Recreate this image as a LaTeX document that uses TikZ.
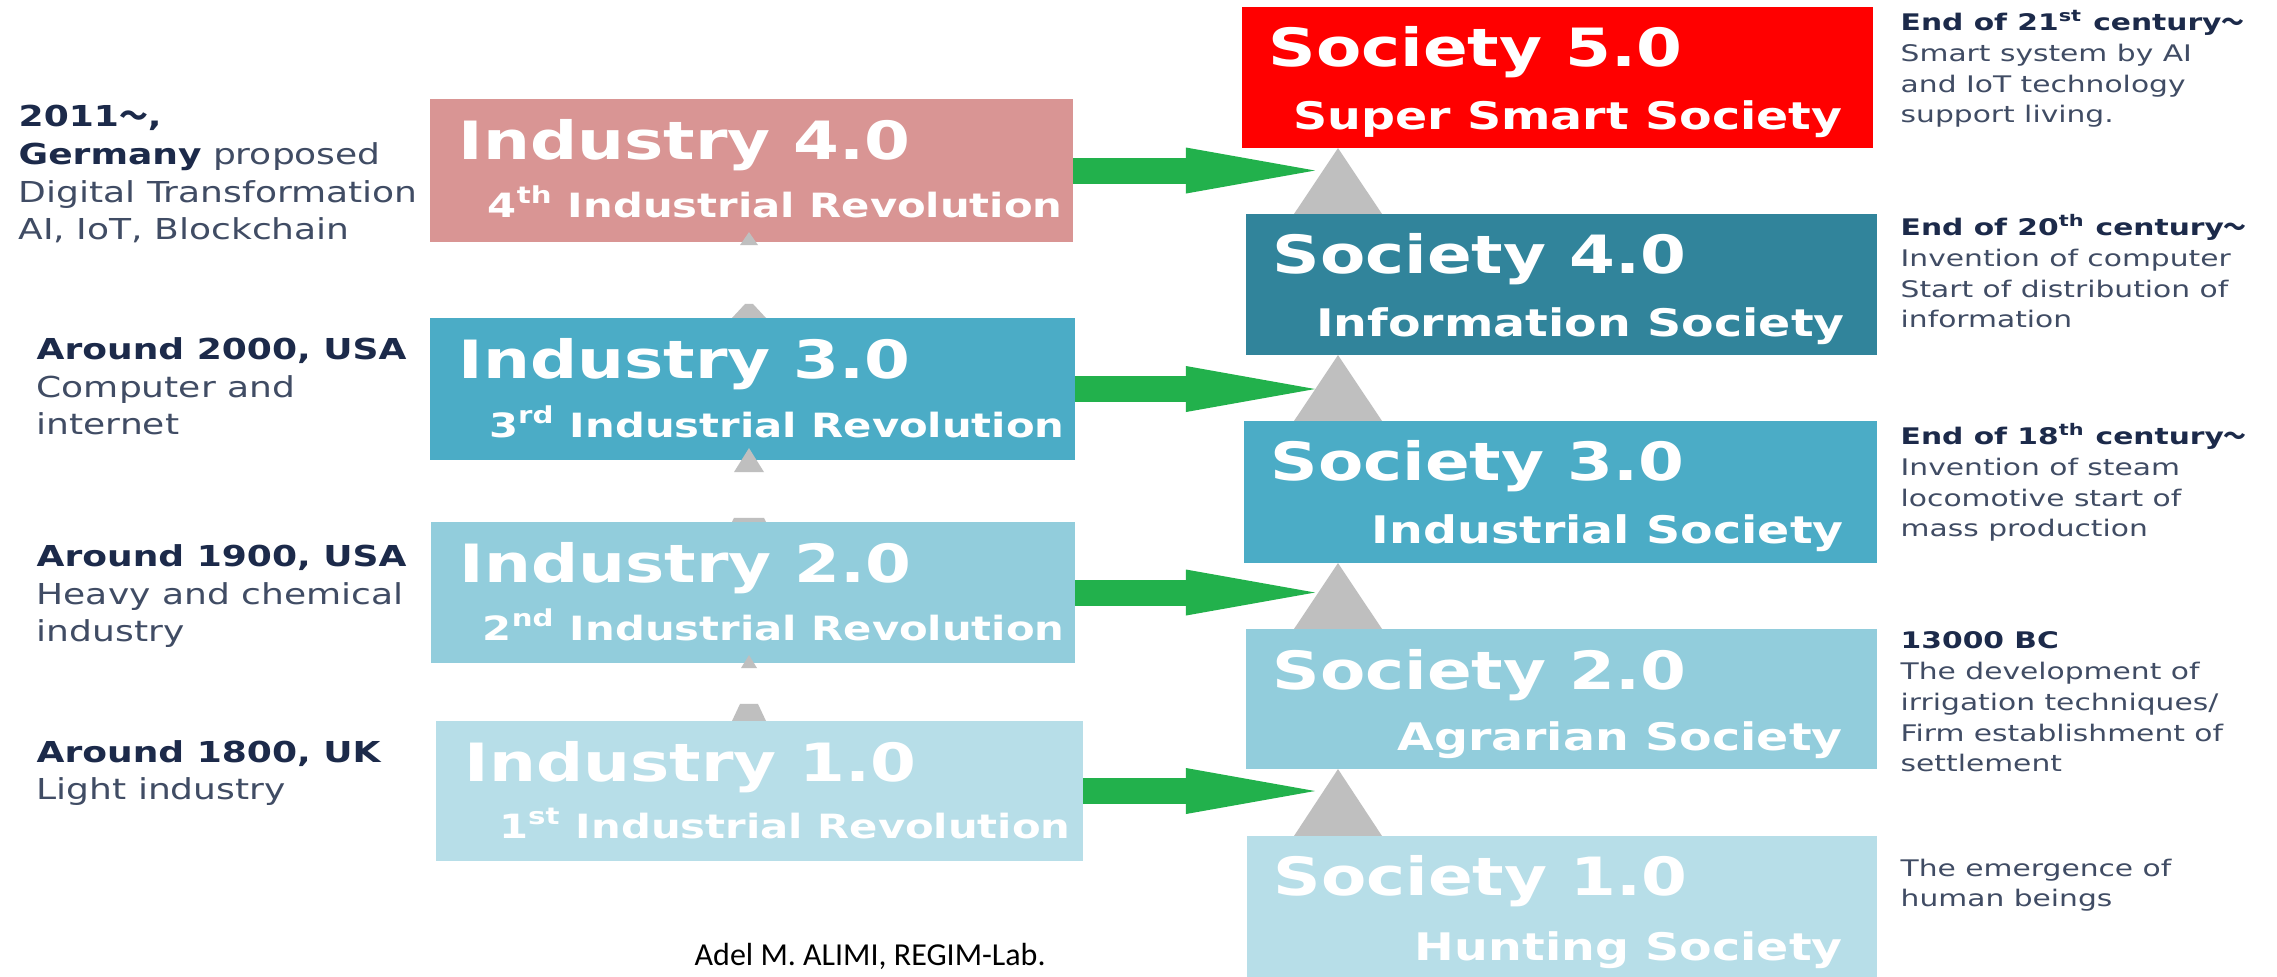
\documentclass[tikz,border=0pt]{standalone}
\usepackage{fontspec}
\usepackage{tikz}
\usetikzlibrary{arrows.meta}
\newfontfamily\boxfont{DejaVu Sans}[FakeStretch=1.25]
\newfontfamily\notefont{DejaVu Sans}[FakeStretch=1.3]
\newfontfamily\labfont{Carlito}
\newfontfamily\jpfont{Noto Sans CJK JP}
\newcommand{\wave}{{\jpfont ～}}
\newcommand{\hd}[1]{{\bfseries\color{navy}#1}}
\definecolor{ind4}{RGB}{217,149,148}
\definecolor{ind3}{RGB}{75,172,198}
\definecolor{ind2}{RGB}{146,205,220}
\definecolor{ind1}{RGB}{183,222,232}
\definecolor{soc5}{RGB}{255,0,0}
\definecolor{soc4}{RGB}{49,132,155}
\definecolor{arrowgreen}{RGB}{34,177,76}
\definecolor{markgray}{RGB}{191,191,191}
\definecolor{navy}{RGB}{28,42,74}
\definecolor{slate}{RGB}{64,76,100}

\begin{document}
\begin{tikzpicture}[x=0.01cm,y=-0.01cm,
  box node/.style={rectangle,inner sep=0pt,outer sep=0pt,anchor=north west},
  title node/.style={anchor=base west,inner sep=0pt,text=white,
    font=\boxfont\bfseries\fontsize{15}{18}\selectfont},
  ind sub/.style={anchor=base east,inner sep=0pt,text=white,
    font=\boxfont\bfseries\fontsize{9.5}{11}\selectfont},
  soc sub/.style={anchor=base east,inner sep=0pt,text=white,
    font=\boxfont\bfseries\fontsize{10.8}{13}\selectfont},
  left note/.style={anchor=base west,inner sep=0pt,align=left,text=slate,
    font=\boxfont\fontsize{8.2}{10.8}\selectfont},
  right note/.style={anchor=base west,inner sep=0pt,align=left,text=slate,
    font=\notefont\fontsize{6.5}{8.8}\selectfont},
  green arrow/.style={draw=arrowgreen,line width=0.26cm,
    -{Triangle[length=1.29cm,width=0.46cm,line width=0pt]}},
  up mark/.style={fill=markgray}]

\fill[white] (0,0) rectangle (2277,977);
\useasboundingbox (0,0) rectangle (2277,977);

\coordinate (tip) at (1315,0);
\coordinate (stem) at (1338,0);
\coordinate (col) at (749,0);

% industry boxes
\node[box node,fill=ind4,minimum width=6.43cm,minimum height=1.43cm] (I4) at (430,99) {};
\node[box node,fill=ind3,minimum width=6.45cm,minimum height=1.42cm] (I3) at (430,318) {};
\node[box node,fill=ind2,minimum width=6.44cm,minimum height=1.41cm] (I2) at (431,522) {};
\node[box node,fill=ind1,minimum width=6.47cm,minimum height=1.40cm] (I1) at (436,721) {};

\node[title node,xshift=0.28cm,yshift=-0.60cm] (I4t) at (I4.north west) {Industry 4.0};
\node[title node,xshift=0.28cm,yshift=-0.60cm] (I3t) at (I3.north west) {Industry 3.0};
\node[title node,xshift=0.28cm,yshift=-0.60cm] (I2t) at (I2.north west) {Industry 2.0};
\node[title node,xshift=0.28cm,yshift=-0.60cm] (I1t) at (I1.north west) {Industry 1.0};
\node[ind sub,xshift=-0.10cm,yshift=0.25cm] (I4s) at (I4.south east) {4\textsuperscript{th} Industrial Revolution};
\node[ind sub,xshift=-0.10cm,yshift=0.23cm] (I3s) at (I3.south east) {3\textsuperscript{rd} Industrial Revolution};
\node[ind sub,xshift=-0.10cm,yshift=0.23cm] (I2s) at (I2.south east) {2\textsuperscript{nd} Industrial Revolution};
\node[ind sub,xshift=-0.12cm,yshift=0.23cm] (I1s) at (I1.south east) {1\textsuperscript{st} Industrial Revolution};

% society boxes
\node[box node,fill=soc5,minimum width=6.31cm,minimum height=1.41cm] (S5) at (1242,7) {};
\node[box node,fill=soc4,minimum width=6.31cm,minimum height=1.41cm] (S4) at (1246,214) {};
\node[box node,fill=ind3,minimum width=6.33cm,minimum height=1.42cm] (S3) at (1244,421) {};
\node[box node,fill=ind2,minimum width=6.31cm,minimum height=1.40cm] (S2) at (1246,629) {};
\node[box node,fill=ind1,minimum width=6.30cm,minimum height=1.41cm] (S1) at (1247,836) {};

\node[title node,xshift=0.26cm,yshift=-0.59cm] (S5t) at (S5.north west) {Society 5.0};
\node[title node,xshift=0.26cm,yshift=-0.59cm] (S4t) at (S4.north west) {Society 4.0};
\node[title node,xshift=0.26cm,yshift=-0.59cm] (S3t) at (S3.north west) {Society 3.0};
\node[title node,xshift=0.26cm,yshift=-0.60cm] (S2t) at (S2.north west) {Society 2.0};
\node[title node,xshift=0.26cm,yshift=-0.59cm] (S1t) at (S1.north west) {Society 1.0};
\node[soc sub,xshift=-0.30cm,yshift=0.19cm] (S5s) at (S5.south east) {Super Smart Society};
\node[soc sub,xshift=-0.32cm,yshift=0.19cm] (S4s) at (S4.south east) {Information Society};
\node[soc sub,xshift=-0.33cm,yshift=0.20cm] (S3s) at (S3.south east) {Industrial Society};
\node[soc sub,xshift=-0.34cm,yshift=0.19cm] (S2s) at (S2.south east) {Agrarian Society};
\node[soc sub,xshift=-0.34cm,yshift=0.17cm] (S1s) at (S1.south east) {Hunting Society};

% what is left of the small up arrows
\fill[up mark] (I4.south -| col) ++(-9,3) -- ++(18,0) -- ++(-9,-13) -- cycle;
\fill[up mark] (I3.north -| col) ++(-17,0) -- ++(34,0) -- ++(-13,-14) -- ++(-8,0) -- cycle;
\fill[up mark] (I3.south -| col) ++(-15,12) -- ++(30,0) -- ++(-15,-24) -- cycle;
\fill[up mark] (I2.north -| col) ++(-17,0) -- ++(34,0) -- ++(-2,-4) -- ++(-30,0) -- cycle;
\fill[up mark] (I2.south -| col) ++(-8,5) -- ++(16,0) -- ++(-8,-13) -- cycle;
\fill[up mark] (I1.north -| col) ++(-17,0) -- ++(34,0) -- ++(-8,-17) -- ++(-18,0) -- cycle;

% society steps
\fill[up mark] (S4.north -| stem) ++(-44,0) -- ++(88,0) -- (S5.south -| stem) -- cycle;
\fill[up mark] (S3.north -| stem) ++(-44,0) -- ++(88,0) -- (S4.south -| stem) -- cycle;
\fill[up mark] (S2.north -| stem) ++(-44,0) -- ++(88,0) -- (S3.south -| stem) -- cycle;
\fill[up mark] (S1.north -| stem) ++(-44,0) -- ++(88,0) -- (S2.south -| stem) -- cycle;

\draw[green arrow] (I4.east) -- (I4.east -| tip);
\draw[green arrow] (I3.east) -- (I3.east -| tip);
\draw[green arrow] (I2.east) -- (I2.east -| tip);
\draw[green arrow] (I1.east) -- (I1.east -| tip);

% notes on the left (base = last line)
\node[left note] (N4) at (18,240) {\hd{2011\wave,}\\\hd{Germany} proposed\\Digital Transformation\\AI, IoT, Blockchain};
\node[left note] (N3) at (36,435) {\hd{Around 2000, USA}\\Computer and\\internet};
\node[left note] (N2) at (36,642) {\hd{Around 1900, USA}\\Heavy and chemical\\industry};
\node[left note] (N1) at (36,800) {\hd{Around 1800, UK}\\Light industry};

% notes on the right
\node[right note] (R5) at (1900,123) {\hd{End of 21\textsuperscript{st} century\wave}\\Smart system by AI\\and IoT technology\\support living.};
\node[right note] (R4) at (1900,328) {\hd{End of 20\textsuperscript{th} century\wave}\\Invention of computer\\Start of distribution of\\information};
\node[right note] (R3) at (1900,537) {\hd{End of 18\textsuperscript{th} century\wave}\\Invention of steam\\locomotive start of\\mass production};
\node[right note] (R2) at (1900,772) {\hd{13000 BC}\\The development of\\irrigation techniques/\\Firm establishment of\\settlement};
\node[right note] (R1) at (1900,907) {The emergence of\\human beings};

\node[anchor=base west,inner sep=0pt,font=\labfont\fontsize{9.1}{11}\selectfont] (lab) at (694,966) {Adel M. ALIMI, REGIM-Lab.};
\end{tikzpicture}
\end{document}
